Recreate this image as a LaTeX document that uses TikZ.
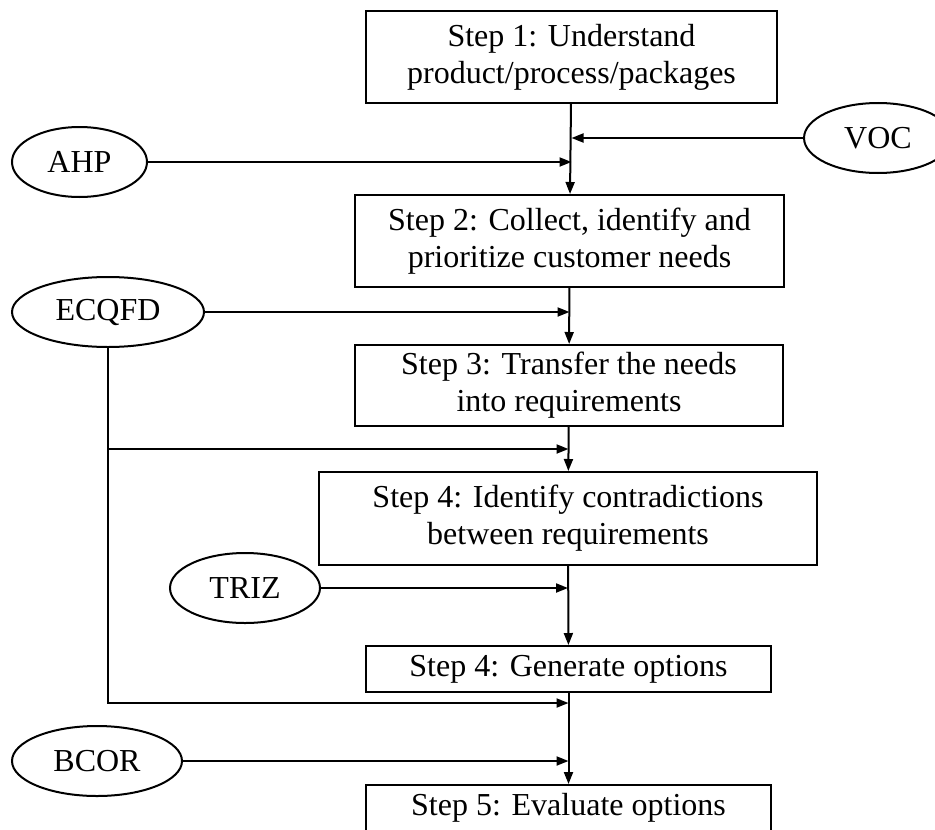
\documentclass[tikz,border=0pt]{standalone}
\usepackage{fontspec}
\setmainfont{Liberation Serif}
\usepackage{tikz}
\usetikzlibrary{arrows.meta,calc,shapes.geometric}
\tikzset{
  stepbox/.style={draw,line width=1pt,align=center,inner sep=2pt,font=\fontsize{16}{18.5}\selectfont},
  tool/.style={draw,ellipse,line width=1pt,inner sep=0pt,minimum height=35pt,font=\fontsize{16}{18.5}\selectfont},
  link/.style={line width=1pt,-{Triangle[length=6pt,width=4.5pt]}},
}
\begin{document}
\begin{tikzpicture}[x=0.5pt,y=-0.5pt]
  \useasboundingbox (0,0) rectangle (935,829);
  % steps
  \node[stepbox,minimum width=205.5pt,minimum height=46pt] (s1) at (571.5,57) {Step 1: Understand\\product/process/packages};
  \node[stepbox,minimum width=214.5pt,minimum height=46pt] (s2) at (569.5,241) {Step 2: Collect, identify and\\prioritize customer needs};
  \node[stepbox,minimum width=214pt,minimum height=40.5pt] (s3) at (569,385.5) {Step 3: Transfer the needs\\into requirements};
  \node[stepbox,minimum width=249pt,minimum height=46.5pt] (s4) at (568,518.5) {Step 4: Identify contradictions\\between requirements};
  \node[stepbox,minimum width=202.5pt,minimum height=23pt] (s5) at (568.5,669) {Step 4: Generate options};
  \node[stepbox,minimum width=202.5pt,minimum height=23pt] (s6) at (568.5,808) {Step 5: Evaluate options};
  % tools
  \node[tool,minimum width=67.5pt] (ahp) at (79.5,162) {AHP};
  \node[tool,minimum width=74pt] (voc) at (878,138) {VOC};
  \node[tool,minimum width=96pt] (ecqfd) at (108,312) {ECQFD};
  \node[tool,minimum width=75pt] (triz) at (245,588) {TRIZ};
  \node[tool,minimum width=85pt] (bcor) at (97,761) {BCOR};
  % junctions on the main line
  \coordinate (vocin) at (s1.south |- voc.west);
  \coordinate (ahpin) at (s1.south |- ahp.east);
  \coordinate (ecqin) at (s2.south |- ecqfd.east);
  \coordinate (mid34) at ($(s3.south)!0.5!(s4.north)$);
  \coordinate (trizin) at (s4.south |- triz.east);
  \coordinate (mid56) at ($(s5.south)!0.11!(s6.north)$);
  \coordinate (bcorin) at (s5.south |- bcor.east);
  \draw[link] (s1) -- (s2);
  \draw[link] (voc) -- (vocin);
  \draw[link] (ahp) -- (ahpin);
  \draw[link] (s2) -- (s3);
  \draw[link] (ecqfd) -- (ecqin);
  \draw[link] (ecqfd) |- (mid34);
  \draw[link] (ecqfd) |- (mid56);
  \draw[link] (s3) -- (s4);
  \draw[link] (triz) -- (trizin);
  \draw[link] (s4) -- (s5);
  \draw[link] (s5) -- (s6);
  \draw[link] (bcor) -- (bcorin);
\end{tikzpicture}
\end{document}
